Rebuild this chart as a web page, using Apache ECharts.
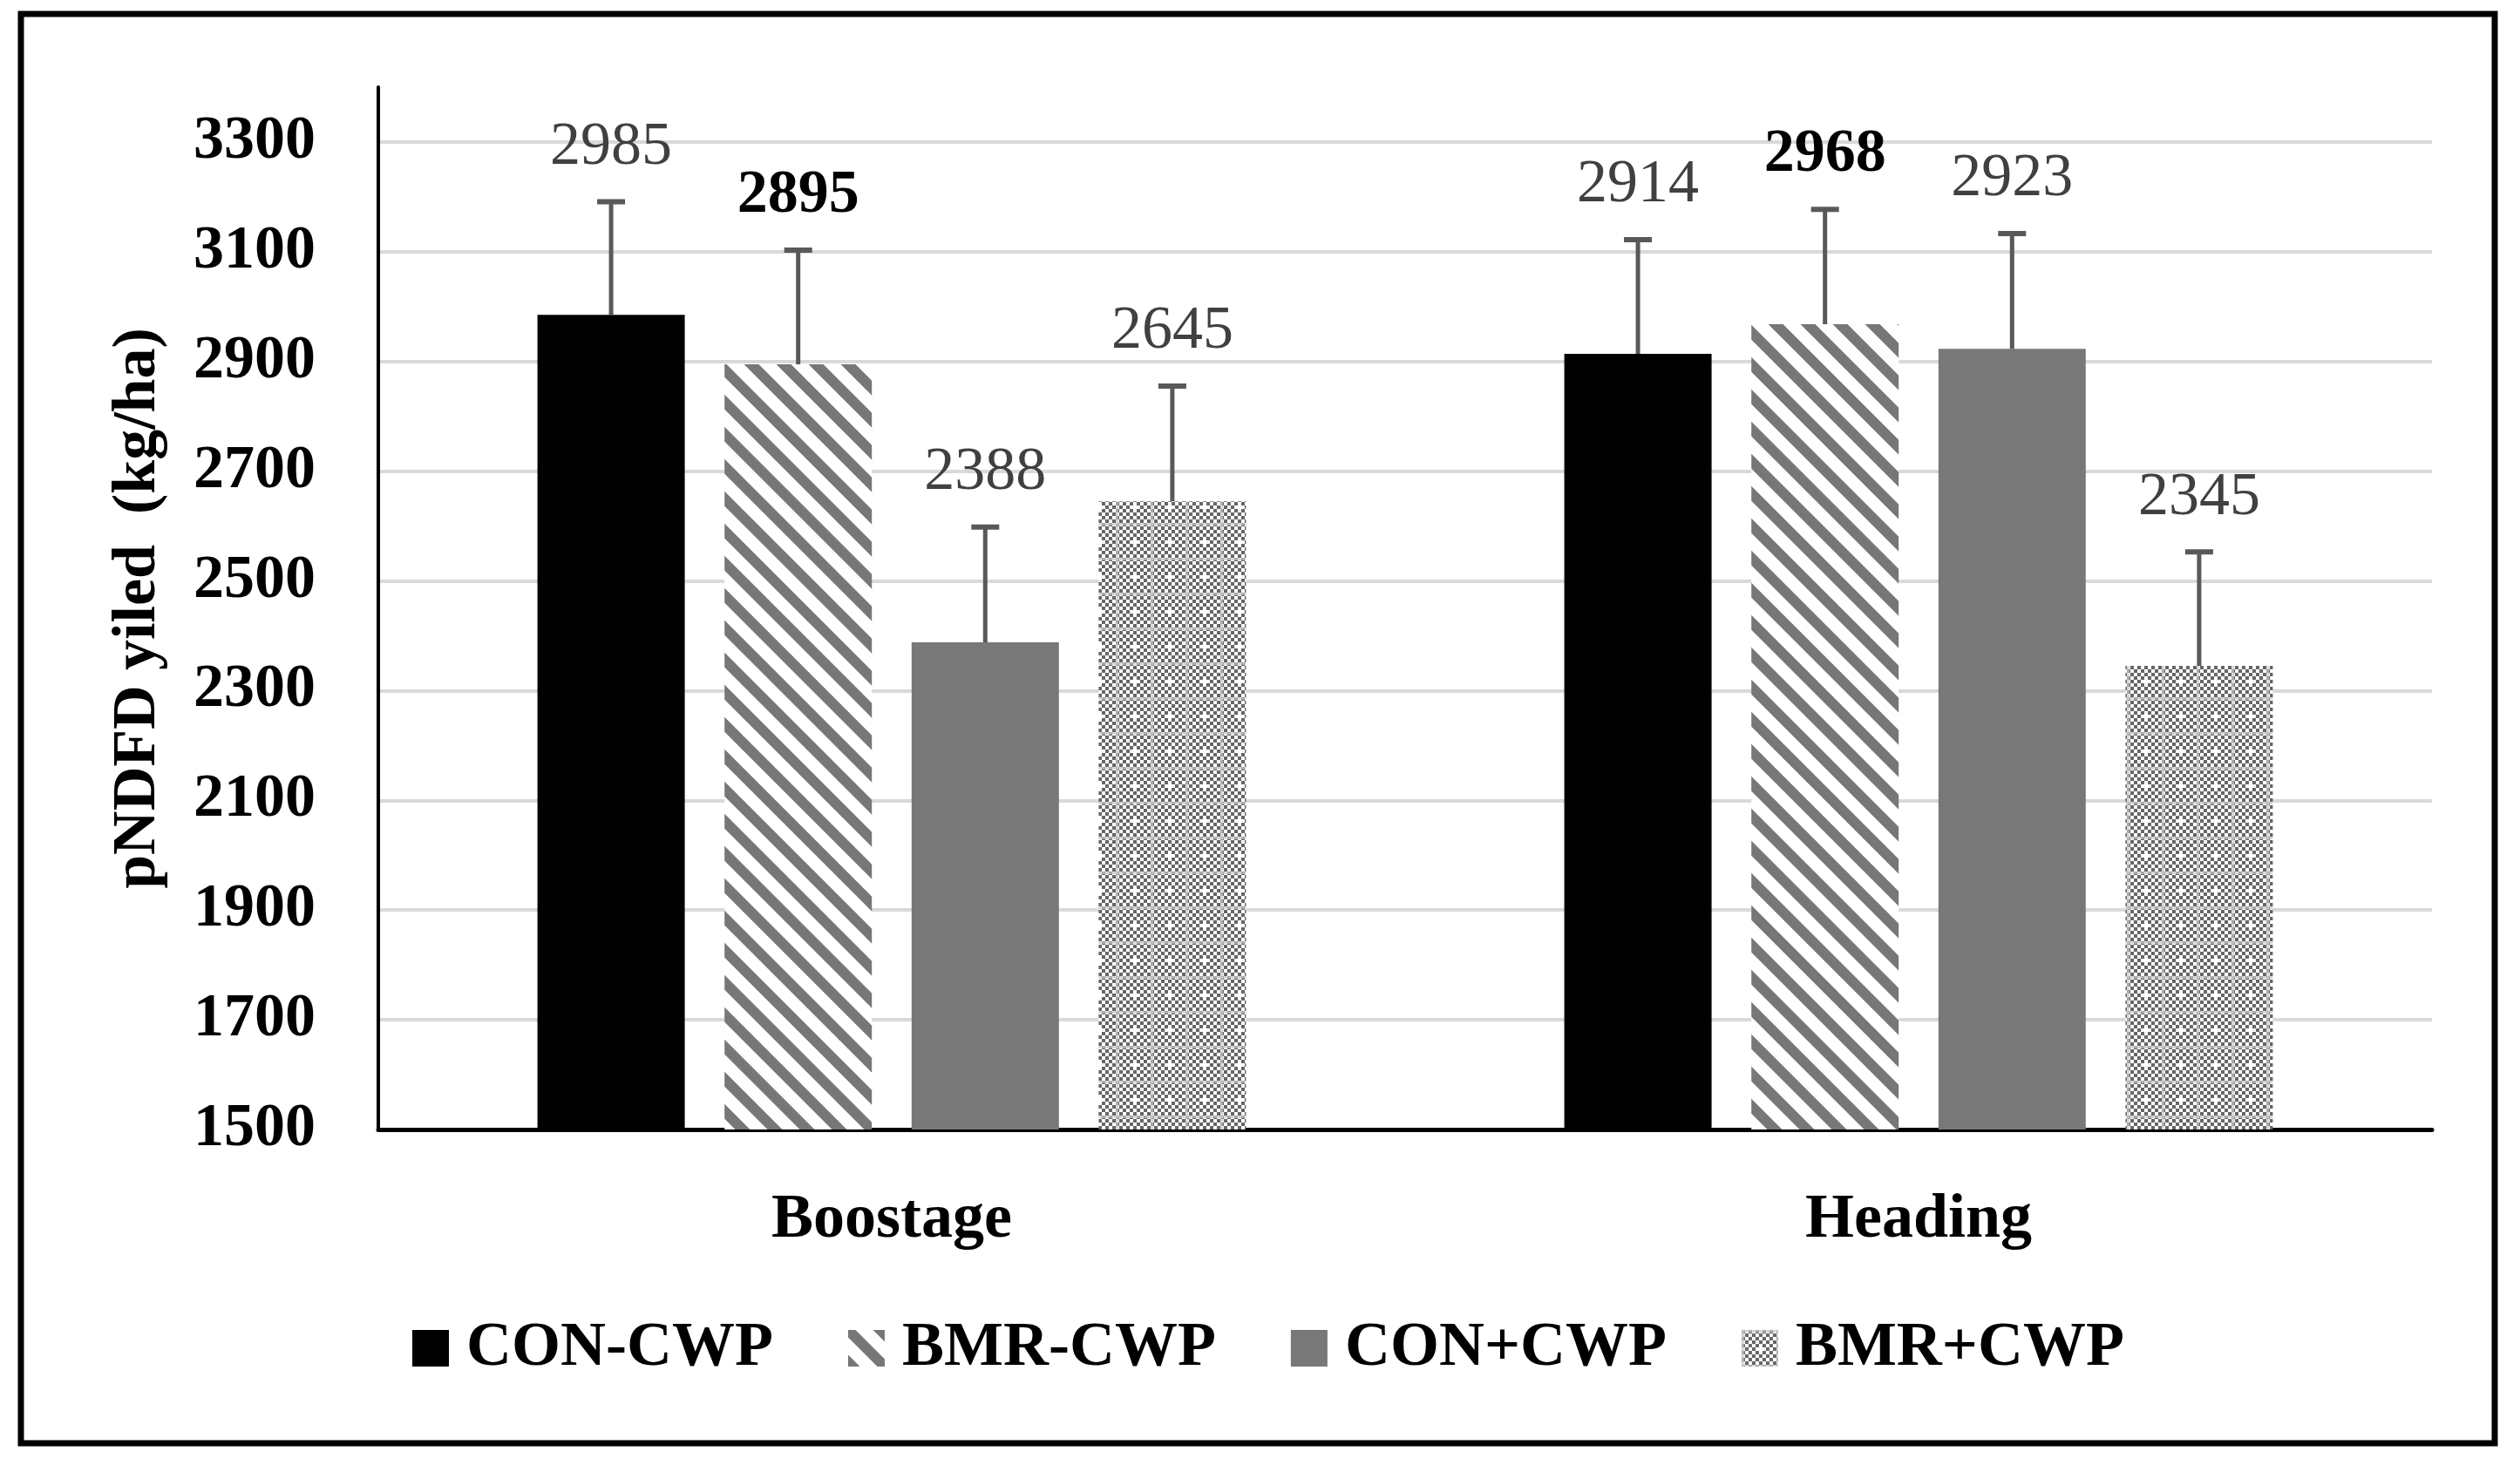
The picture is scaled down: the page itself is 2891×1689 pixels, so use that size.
<!DOCTYPE html>
<html><head><meta charset="utf-8">
<script src="https://cdn.jsdelivr.net/npm/echarts@6/dist/echarts.min.js"></script>
<style>html,body{margin:0;padding:0;background:#fff}#c{width:2891px;height:1689px}</style>
</head><body><div id="c"></div>
<script>
// ---- data ----
const categories = ['Boostage', 'Heading'];
const seriesNames = ['CON-CWP', 'BMR-CWP', 'CON+CWP', 'BMR+CWP'];
const conMinusCwp = [2985, 2914];
const bmrMinusCwp = [2895, 2968];
const conPlusCwp = [2388, 2923];
const bmrPlusCwp = [2645, 2345];
const errConMinusCwp = [206, 208];
const errBmrMinusCwp = [208, 209];
const errConPlusCwp = [210, 210];
const errBmrPlusCwp = [210, 208];
const yMin = 1500, yMax = 3400, yStep = 200;
const yTitle = 'pNDFD yiled  (kg/ha)';

const values = [conMinusCwp, bmrMinusCwp, conPlusCwp, bmrPlusCwp];
const errors = [errConMinusCwp, errBmrMinusCwp, errConPlusCwp, errBmrPlusCwp];

// ---- patterns ----
function stripePattern() {
  const s = 37, c = document.createElement('canvas');
  c.width = s; c.height = s;
  const g = c.getContext('2d');
  g.fillStyle = '#fff'; g.fillRect(0, 0, s, s);
  g.strokeStyle = '#777777'; g.lineWidth = 12; g.lineCap = 'square';
  for (let k = -1; k <= 1; k++) {
    g.beginPath(); g.moveTo(k * s - 4, -4); g.lineTo(k * s + s + 4, s + 4); g.stroke();
  }
  return c;
}
function checkerPattern() {
  const s = 40, cell = 4, c = document.createElement('canvas');
  c.width = s; c.height = s;
  const g = c.getContext('2d');
  g.fillStyle = '#fff'; g.fillRect(0, 0, s, s);
  g.fillStyle = '#666666';
  for (let i = 0; i < s / cell; i++) for (let j = 0; j < s / cell; j++) {
    if ((i + j) % 2 === 0) g.fillRect(i * cell, j * cell, cell, cell);
  }
  g.fillStyle = 'rgba(200,200,200,0.7)';
  g.fillRect(0, 0, s, 3); g.fillRect(0, 0, 3, s);
  g.fillStyle = '#fff';
  g.fillRect(20, 20, 4, 4);
  return c;
}
const fills = [
  '#000000',
  { image: stripePattern(), repeat: 'repeat' },
  '#787878',
  { image: checkerPattern(), repeat: 'repeat' }
];

const FONT = "'Liberation Serif', 'Times New Roman', serif";
const N = 4, BAR_GAP = 0.27, CAT_GAP = 0.31;

const barSeries = values.map((arr, i) => ({
  name: seriesNames[i], type: 'bar', data: arr,
  barGap: (BAR_GAP * 100) + '%', barCategoryGap: (CAT_GAP * 100) + '%',
  itemStyle: { color: fills[i] }, z: 2
}));

const errSeries = values.map((arr, i) => ({
  name: 'err' + i, type: 'custom', z: 5,
  data: arr.map((v, ci) => [ci, v, errors[i][ci]]),
  encode: { x: 0, y: 1 },
  renderItem(params, api) {
    const ci = api.value(0), v = api.value(1), e = api.value(2);
    const band = api.size([1, 0])[0];
    const bw = band * (1 - CAT_GAP) / (N + (N - 1) * BAR_GAP);
    const groupW = N * bw + (N - 1) * BAR_GAP * bw;
    const base = api.coord([ci, v]);
    const top = api.coord([ci, v + e]);
    const x = base[0] - groupW / 2 + i * bw * (1 + BAR_GAP) + bw / 2;
    const bold = i === 1;
    return {
      type: 'group', children: [
        { type: 'line', shape: { x1: x, y1: base[1], x2: x, y2: top[1] }, style: { stroke: '#595959', lineWidth: 5 } },
        { type: 'line', shape: { x1: x - 16, y1: top[1], x2: x + 16, y2: top[1] }, style: { stroke: '#595959', lineWidth: 6 } },
        { type: 'text', x: x, y: top[1] - 62, style: {
            text: String(v), align: 'center', verticalAlign: 'middle',
            fontFamily: FONT, fontSize: 70, fontWeight: bold ? 'bold' : 'normal',
            fill: bold ? '#000000' : '#404040' } }
      ]
    };
  }
}));

const chart = echarts.init(document.getElementById('c'), null, { renderer: 'canvas' });
chart.setOption({
  backgroundColor: '#ffffff',
  animation: false,
  grid: { left: 434, right: 101, top: 100, bottom: 393 },
  legend: {
    data: seriesNames, left: 468, top: 1506,
    itemWidth: 42, itemHeight: 42, itemGap: 86, icon: 'rect',
    textStyle: { fontFamily: FONT, fontWeight: 'bold', fontSize: 72, color: '#000', padding: [0, 0, 0, 15] }
  },
  xAxis: {
    type: 'category', data: categories,
    axisLine: { lineStyle: { color: '#000', width: 5 } },
    axisTick: { show: false },
    axisLabel: { fontFamily: FONT, fontWeight: 'bold', fontSize: 72, color: '#000', margin: 68 }
  },
  yAxis: {
    type: 'value', min: yMin, max: yMax, interval: yStep,
    name: yTitle, nameLocation: 'middle', nameGap: 240,
    nameTextStyle: { fontFamily: FONT, fontWeight: 'bold', fontSize: 70, color: '#000' },
    axisLine: { show: true, lineStyle: { color: '#000', width: 4 } },
    axisTick: { show: false },
    axisLabel: { fontFamily: FONT, fontWeight: 'bold', fontSize: 70, color: '#000', margin: 72, showMaxLabel: false,
      formatter: (v) => String(v) },
    splitLine: { show: true, showMaxLine: false, lineStyle: { color: '#d9d9d9', width: 4 } }
  },
  graphic: [{
    type: 'rect', z: 100, silent: true,
    shape: { x: 24, y: 16, width: 2838, height: 1640 },
    style: { fill: 'none', stroke: '#000', lineWidth: 7 }
  }],
  series: [...barSeries, ...errSeries]
});
</script>
</body></html>
